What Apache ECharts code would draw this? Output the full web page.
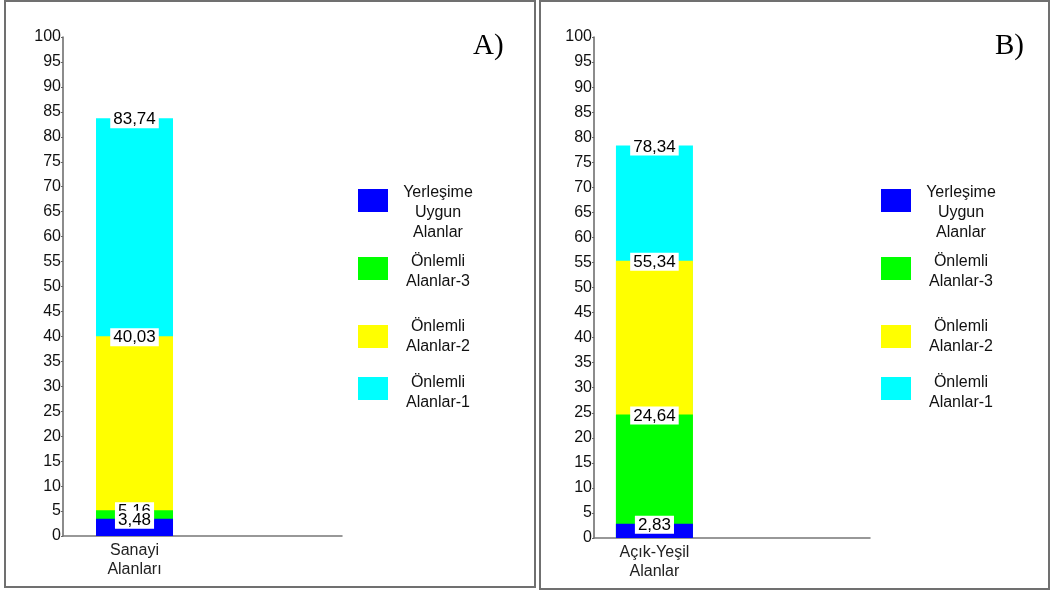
<!DOCTYPE html>
<html>
<head>
<meta charset="utf-8">
<script src="https://cdn.jsdelivr.net/npm/echarts@6/dist/echarts.min.js"></script>
<style>
html,body{margin:0;padding:0;background:#fff;}
#c{width:1051px;height:592px;}
</style>
</head>
<body>
<div id="c"></div>
<script>
// ---- DATA ----
const panelTitles = ['A)', 'B)'];
const categoriesA = ['Sanayi\nAlanları'];
const categoriesB = ['Açık-Yeşil\nAlanlar'];
const seriesNames = ['Yerleşime Uygun Alanlar', 'Önlemli Alanlar-3', 'Önlemli Alanlar-2', 'Önlemli Alanlar-1'];
const legendLabels = ['Yerleşime\nUygun\nAlanlar', 'Önlemli\nAlanlar-3', 'Önlemli\nAlanlar-2', 'Önlemli\nAlanlar-1'];
// cumulative top of each segment, as labelled in the picture
const valuesA = [3.48, 5.16, 40.03, 83.74];
const valuesB = [2.83, 24.64, 55.34, 78.34];
const yMin = 0, yMax = 100, yInterval = 5;

// ---- STYLE / LAYOUT ----
const colors = ['#0000FF', '#00FF00', '#FFFF00', '#00FFFF'];
const FONT = "'Liberation Sans', Arial, sans-serif";
const panels = [
  {grid: {left: 63, top: 37, width: 279, height: 499}, barPos: 0.2563, legendLeft: 358, titleLeft: 468, cats: categoriesA, vals: valuesA},
  {grid: {left: 594, top: 37, width: 276, height: 501}, barPos: 0.219, legendLeft: 881, titleLeft: 990, cats: categoriesB, vals: valuesB}
];
const legendTops = [185, 254, 318.5, 374.5];
const legendTextPadTop = [25, 7, 0, 8];

const grids = [], xAxes = [], yAxes = [], series = [], legends = [], titles = [];
panels.forEach((p, pi) => {
  grids.push(Object.assign({containLabel: false}, p.grid));
  xAxes.push({
    type: 'value', gridIndex: pi, min: 0, max: 1,
    axisLine: {show: true, lineStyle: {color: '#777', width: 1.5}},
    axisTick: {show: false},
    splitLine: {show: false},
    axisLabel: {
      customValues: [p.barPos],
      formatter: () => p.cats[0],
      fontFamily: FONT, fontSize: 16, color: '#222', lineHeight: 19, margin: 5
    }
  });
  yAxes.push({
    type: 'value', gridIndex: pi, min: yMin, max: yMax, interval: yInterval,
    axisLine: {show: true, lineStyle: {color: '#666', width: 1.5}},
    axisTick: {show: true, length: 2, lineStyle: {color: '#666'}},
    splitLine: {show: false},
    axisLabel: {fontFamily: FONT, fontSize: 16, color: '#111', margin: 2}
  });
  // draw tallest first so shorter segments lie on top
  for (let i = seriesNames.length - 1; i >= 0; i--) {
    series.push({
      name: seriesNames[i], type: 'bar',
      xAxisIndex: pi, yAxisIndex: pi,
      barWidth: 77, barGap: '-100%',
      itemStyle: {color: colors[i]},
      data: [[p.barPos, p.vals[i]]],
      label: {
        show: true, position: 'top', distance: -10,
        formatter: (d) => d.value[1].toFixed(2).replace('.', ','),
        fontFamily: FONT, fontSize: 17, color: '#000',
        backgroundColor: '#fff', padding: [1, 3, 0, 3]
      },
      emphasis: {disabled: true}
    });
  }
  legendLabels.forEach((lab, i) => {
    legends.push({
      data: [{name: seriesNames[i], icon: 'rect'}],
      left: p.legendLeft, top: legendTops[i], padding: 0,
      itemWidth: 30, itemHeight: 23, selectedMode: false,
      formatter: () => '{t|' + lab + '}',
      textStyle: {
        padding: [legendTextPadTop[i], 0, 0, 0],
        rich: {t: {width: 90, align: 'center', fontFamily: FONT, fontSize: 16, lineHeight: 20, color: '#111'}}
      }
    });
  });
  titles.push({
    text: panelTitles[pi], left: p.titleLeft, top: 27,
    textStyle: {fontFamily: "'Liberation Serif', 'Times New Roman', serif", fontSize: 29, fontWeight: 'normal', color: '#000'}
  });
});

const chart = echarts.init(document.getElementById('c'), null, {renderer: 'canvas'});
chart.setOption({
  animation: false,
  backgroundColor: '#fff',
  title: titles,
  grid: grids,
  xAxis: xAxes,
  yAxis: yAxes,
  legend: legends,
  series: series,
  graphic: [
    {type: 'rect', shape: {x: 5, y: 1, width: 530, height: 586}, style: {fill: 'none', stroke: '#707070', lineWidth: 2}, silent: true},
    {type: 'rect', shape: {x: 540, y: 1, width: 509, height: 588}, style: {fill: 'none', stroke: '#707070', lineWidth: 2}, silent: true}
  ]
});
</script>
</body>
</html>
